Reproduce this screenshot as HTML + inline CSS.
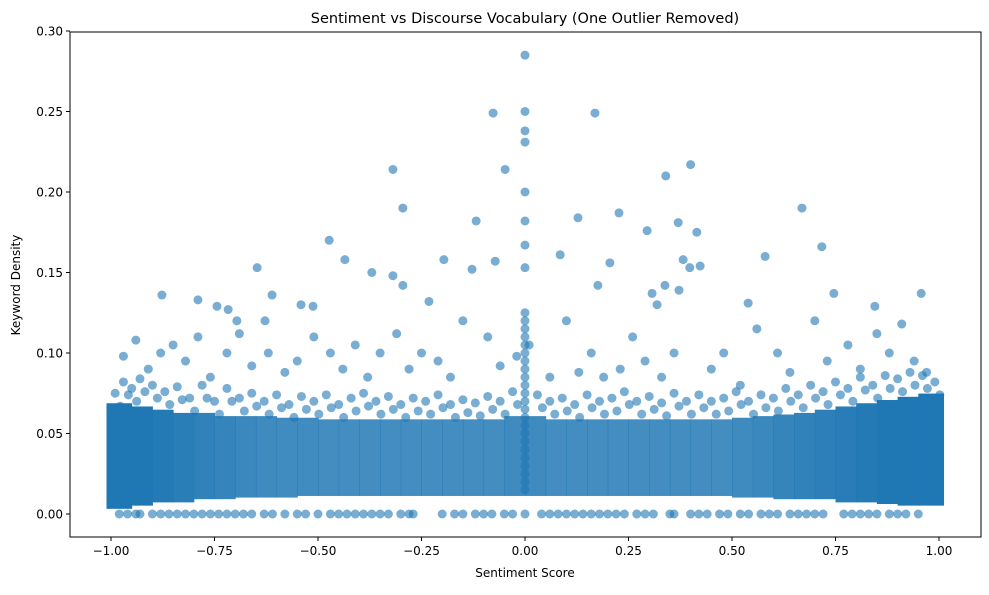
<!DOCTYPE html>
<html><head><meta charset="utf-8"><style>
body{margin:0;background:#fff}
svg text{font-family:"DejaVu Sans","Liberation Sans",sans-serif;fill:#000}
</style></head><body>
<svg id="chart" width="989" height="590">
<rect width="989" height="590" fill="#fff"/>
<text x="525" y="23" text-anchor="middle" font-size="14.5">Sentiment vs Discourse Vocabulary (One Outlier Removed)</text>
<g id="core"></g>
<g id="pts"></g>
<rect x="70" y="32" width="911" height="505" fill="none" stroke="#000" stroke-width="1"/>
<g id="xt"></g>
<g id="yt"></g>
<text x="525" y="577" text-anchor="middle" font-size="12">Sentiment Score</text>
<text transform="translate(20,285) rotate(-90)" text-anchor="middle" font-size="12">Keyword Density</text>
</svg>
<script>
const xTicks=[-1,-0.75,-0.5,-0.25,0,0.25,0.5,0.75,1];
const xTickLabels=["\u22121.00","\u22120.75","\u22120.50","\u22120.25","0.00","0.25","0.50","0.75","1.00"];
const yTicks=[0,0.05,0.1,0.15,0.2,0.25,0.3];
const yTickLabels=["0.00","0.05","0.10","0.15","0.20","0.25","0.30"];
const binCenters=[-0.975,-0.925,-0.875,-0.825,-0.775,-0.725,-0.675,-0.625,-0.575,-0.525,-0.475,-0.425,-0.375,-0.325,-0.275,-0.225,-0.175,-0.125,-0.075,-0.025,0.025,0.075,0.125,0.175,0.225,0.275,0.325,0.375,0.425,0.475,0.525,0.575,0.625,0.675,0.725,0.775,0.825,0.875,0.925,0.975];
const binLower=[0.006,0.008,0.01,0.01,0.012,0.012,0.013,0.013,0.013,0.014,0.014,0.014,0.014,0.014,0.014,0.014,0.014,0.014,0.014,0.014,0.014,0.014,0.014,0.014,0.014,0.014,0.014,0.014,0.014,0.014,0.013,0.013,0.012,0.012,0.012,0.01,0.01,0.009,0.008,0.008];
const binUpper=[0.066,0.064,0.062,0.06,0.06,0.058,0.058,0.058,0.057,0.057,0.056,0.056,0.056,0.056,0.056,0.056,0.056,0.056,0.056,0.058,0.058,0.056,0.056,0.056,0.056,0.056,0.056,0.056,0.056,0.056,0.057,0.058,0.059,0.06,0.062,0.064,0.066,0.068,0.07,0.072];
const binDensity=[1,1,0.98,0.95,0.92,0.9,0.88,0.86,0.85,0.85,0.84,0.84,0.84,0.84,0.84,0.84,0.84,0.84,0.84,0.86,0.86,0.84,0.84,0.84,0.84,0.84,0.84,0.84,0.84,0.84,0.86,0.88,0.9,0.92,0.94,0.96,0.98,1,1,1];
// sparse outliers (x list, y list aligned in rows)
const outX=[0,0,0,0,0,0,0,0,
 -0.077,-0.048,0.169,0.4,0.34,0.128,0.227,0.295,
 0.37,0.415,0.669,0.717,-0.295,-0.319,-0.118,-0.473,
 -0.647,-0.37,-0.319,-0.295,-0.196,-0.128,-0.072,0.205,
 0.382,0.423,0.398,0.085,0.176,0.307,0.338,0.372,
 0.746,0.845,0.957,0.58,0.539,0.319,-0.877,-0.744,
 -0.79,-0.611,-0.435,-0.541,-0.512,-0.232,-0.628,-0.717,
 -0.696,-0.02,0.01,-0.06,0.06,-0.09,0.1,0.13,
 0.16,0.19,0.23,0.26,0.29,0.33,0.36,0.45,
 0.48,0.52,0.56,0.61,0.64,0.7,0.73,0.78,
 0.81,0.85,0.88,0.91,0.94,0.97,-0.97,-0.94,
 -0.91,-0.88,-0.85,-0.82,-0.79,-0.76,-0.72,-0.69,
 -0.66,-0.62,-0.58,-0.55,-0.51,-0.47,-0.44,-0.41,
 -0.38,-0.35,-0.31,-0.28,-0.25,-0.21,-0.18,-0.15];
const outY=[0.285,0.25,0.238,0.231,0.2,0.182,0.167,0.153,
 0.249,0.214,0.249,0.217,0.21,0.184,0.187,0.176,
 0.181,0.175,0.19,0.166,0.19,0.214,0.182,0.17,
 0.153,0.15,0.148,0.142,0.158,0.152,0.157,0.156,
 0.158,0.154,0.153,0.161,0.142,0.137,0.142,0.139,
 0.137,0.129,0.137,0.16,0.131,0.13,0.136,0.129,
 0.133,0.136,0.158,0.13,0.129,0.132,0.12,0.127,
 0.12,0.098,0.105,0.092,0.085,0.11,0.12,0.088,
 0.1,0.085,0.09,0.11,0.095,0.085,0.1,0.09,
 0.1,0.08,0.115,0.1,0.088,0.12,0.095,0.105,
 0.09,0.112,0.1,0.118,0.095,0.088,0.098,0.108,
 0.09,0.1,0.105,0.095,0.11,0.085,0.1,0.112,
 0.092,0.1,0.088,0.095,0.11,0.1,0.09,0.105,
 0.085,0.1,0.112,0.09,0.1,0.095,0.085,0.12];
// points hugging the upper edge of the dense cloud
const edgeX=[-0.99,-0.97,-0.95,-0.93,-0.9,-0.87,-0.84,-0.81,-0.78,-0.75,-0.72,-0.69,-0.66,-0.63,-0.6,-0.57,-0.54,-0.51,-0.48,-0.45,-0.42,-0.39,-0.36,-0.33,-0.3,-0.27,-0.24,-0.21,-0.18,-0.15,-0.12,-0.09,-0.06,-0.03,0.03,0.06,0.09,0.12,0.15,0.18,0.21,0.24,0.27,0.3,0.33,0.36,0.39,0.42,0.45,0.48,0.51,0.54,0.57,0.6,0.63,0.66,0.69,0.72,0.75,0.78,0.81,0.84,0.87,0.9,0.93,0.96,0.99];
const edgeY=[0.075,0.082,0.078,0.084,0.08,0.076,0.079,0.072,0.08,0.07,0.078,0.072,0.075,0.07,0.074,0.068,0.073,0.07,0.074,0.068,0.072,0.075,0.07,0.073,0.068,0.072,0.07,0.074,0.068,0.071,0.069,0.073,0.07,0.076,0.074,0.07,0.072,0.068,0.074,0.07,0.072,0.076,0.07,0.073,0.069,0.075,0.07,0.074,0.07,0.072,0.076,0.07,0.074,0.072,0.078,0.074,0.08,0.076,0.082,0.078,0.085,0.08,0.086,0.084,0.088,0.086,0.082];
const zeroX=[-0.98,-0.96,-0.94,-0.93,-0.9,-0.88,-0.86,-0.84,-0.82,-0.8,-0.78,-0.76,-0.74,-0.72,-0.7,-0.68,-0.66,-0.63,-0.61,-0.58,-0.55,-0.53,-0.5,-0.47,-0.45,-0.43,-0.41,-0.39,-0.37,-0.35,-0.33,-0.3,-0.28,-0.27,-0.2,-0.17,-0.15,-0.12,-0.1,-0.08,-0.05,-0.03,0,0.04,0.06,0.08,0.1,0.12,0.14,0.16,0.18,0.2,0.22,0.24,0.27,0.29,0.31,0.35,0.36,0.4,0.42,0.44,0.47,0.49,0.52,0.54,0.57,0.59,0.61,0.64,0.66,0.68,0.7,0.72,0.77,0.79,0.81,0.83,0.85,0.88,0.9,0.92,0.95];
const stripeY=[0.015,0.02,0.025,0.03,0.035,0.04,0.045,0.05,0.055,0.06,0.065,0.07,0.075,0.08,0.085,0.09,0.095,0.1,0.105,0.11,0.115,0.12,0.125];
const NS='http://www.w3.org/2000/svg';
const X0=70,X1=981,Y0=32,Y1=537;
function sx(v){return 525+v*414;}
function sy(v){return 514-v*1610;}
function mk(t,a){const e=document.createElementNS(NS,t);for(const k in a)e.setAttribute(k,a[k]);return e;}
const core=document.getElementById('core'),pts=document.getElementById('pts');
const C='#1f77b4';
binCenters.forEach((c,i)=>{
  let xa=sx(c-0.025),xb=sx(c+0.025);
  if(i===0)xa-=4.5; if(i===binCenters.length-1)xb+=4.5;
  const r=mk('rect',{x:xa,y:sy(binUpper[i])-4.5,width:xb-xa+0.5,height:sy(binLower[i])-sy(binUpper[i])+9,fill:C,'fill-opacity':binDensity[i]});
  
  
  core.appendChild(r);
});
function dot(x,y){const d=mk('circle',{cx:sx(x),cy:sy(y),r:4.5,fill:C,'fill-opacity':0.6});
  
  
  pts.appendChild(d);}
edgeX.forEach((x,i)=>{dot(x,edgeY[i]);dot(x+0.012,edgeY[i]-0.008);});
outX.forEach((x,i)=>dot(x,outY[i]));
zeroX.forEach(x=>dot(x,0));
stripeY.forEach(y=>dot(0,y));
const xt=document.getElementById('xt'),yt=document.getElementById('yt');
xTicks.forEach((v,i)=>{
  xt.appendChild(mk('line',{x1:sx(v),x2:sx(v),y1:Y1,y2:Y1+4,stroke:'#000'}));
  const t=mk('text',{x:sx(v),y:Y1+18,'text-anchor':'middle','font-size':12});t.textContent=xTickLabels[i];
  
  
  xt.appendChild(t);
});
yTicks.forEach((v,i)=>{
  yt.appendChild(mk('line',{x1:X0-4,x2:X0,y1:sy(v),y2:sy(v),stroke:'#000'}));
  const t=mk('text',{x:X0-7,y:sy(v)+4.5,'text-anchor':'end','font-size':12});t.textContent=yTickLabels[i];
  
  
  yt.appendChild(t);
});
</script>
</body></html>
